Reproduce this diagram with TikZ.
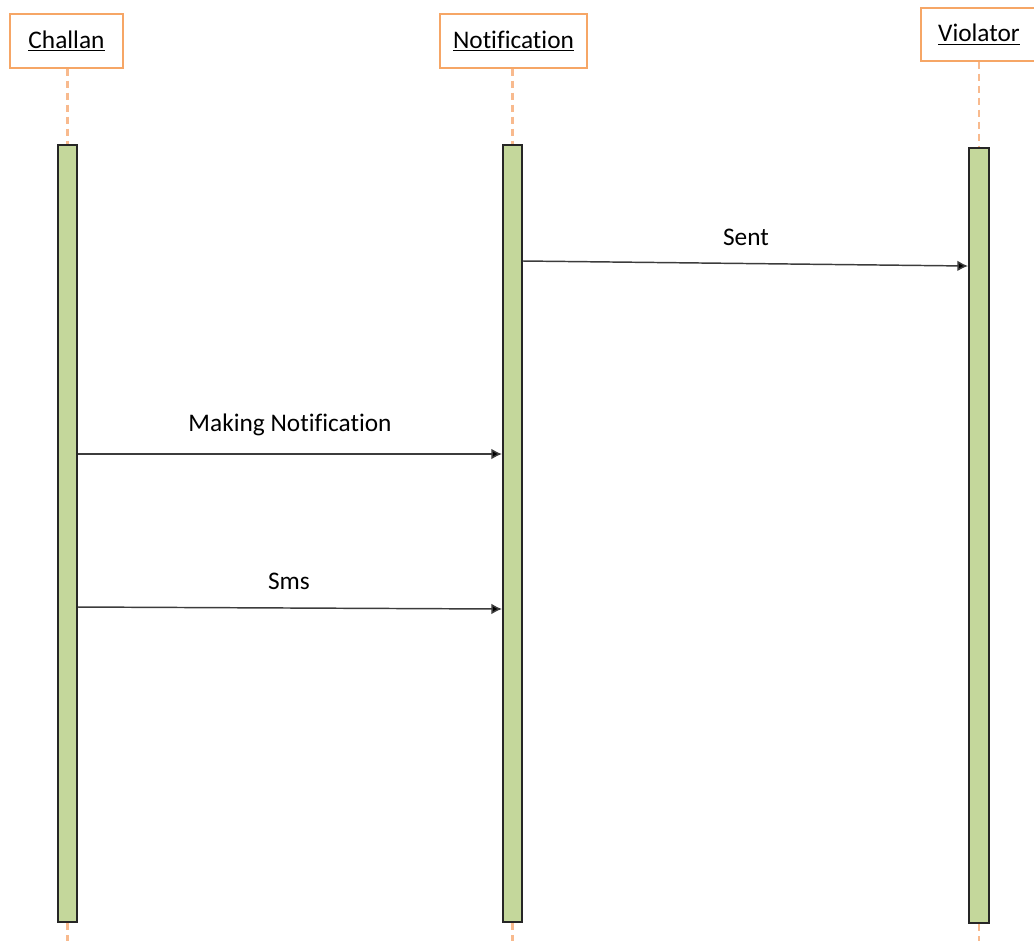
\documentclass[tikz,border=0pt]{standalone}
\usepackage{fontspec}
\setmainfont[Ligatures=CommonOff]{Carlito}
\usepackage{xcolor}
\usetikzlibrary{arrows.meta}

\definecolor{boxorange}{RGB}{246,166,102}
\definecolor{lineorange}{RGB}{248,186,142}
\definecolor{barfill}{RGB}{196,215,155}
\definecolor{msggray}{RGB}{60,60,60}

\begin{document}
\begin{tikzpicture}
            [
                x=0.75pt, y=-0.75pt,
                font=\fontsize{19}{23}\selectfont
            ]
            \tikzset{
                objbox/.style = {rectangle, draw=boxorange, line width=1.1pt, fill=white, align=center, minimum height=40.5pt, inner sep=0pt},
                actbar/.style = {rectangle, draw=black!85, line width=1.5pt, fill=barfill, minimum width=14.25pt, inner sep=0pt},
                lifeline/.style = {draw=lineorange, line width=1.6pt, dash pattern=on 5.5pt off 3.5pt},
                msg/.style = {draw=msggray, line width=1.1pt, -{Latex[length=8pt,width=8pt,fill=black]}},
                msglabel/.style = {draw=none, inner sep=0pt}
            }
            \useasboundingbox (0,0) rectangle (1034,940);
            \node [objbox, minimum width=84.75pt] (C) at (66.5,41) {\underline{Challan}};
            \node [objbox, minimum width=110.25pt] (N) at (513.5,41) {\underline{Notification}};
            \node [objbox, minimum width=87pt, minimum height=39.75pt] (V) at (979,34.5) {\underline{Violator}};
            \node [actbar, minimum height=582.75pt] (CB) at (67.5,533.5) {};
            \node [actbar, minimum height=582.75pt] (NB) at (512.5,533.5) {};
            \node [actbar, minimum width=15pt, minimum height=581.25pt] (VB) at (979,535.5) {};
            \draw [lifeline] (C.south -| CB.north) -- (CB.north);
            \draw [lifeline] (CB.south) -- ++(0,18);
            \draw [lifeline] (N.south -| NB.north) -- (NB.north);
            \draw [lifeline] (NB.south) -- ++(0,18);
            \draw [lifeline] (V.south) -- (VB.north);
            \draw [lifeline] (VB.south) -- ++(0,17);
            \draw [msg] (NB.east |- 0,261) -- (VB.west |- 0,266);
            \node [msglabel] (sent) at (746,237) {Sent};
            \draw [msg] (CB.east |- 0,454) -- (NB.west |- 0,454);
            \node [msglabel] (mk) at (290,425) {Making Notification};
            \draw [msg] (CB.east |- 0,607) -- (NB.west |- 0,609);
            \node [msglabel] (sms) at (289,581) {Sms};
        \end{tikzpicture}
\end{document}
